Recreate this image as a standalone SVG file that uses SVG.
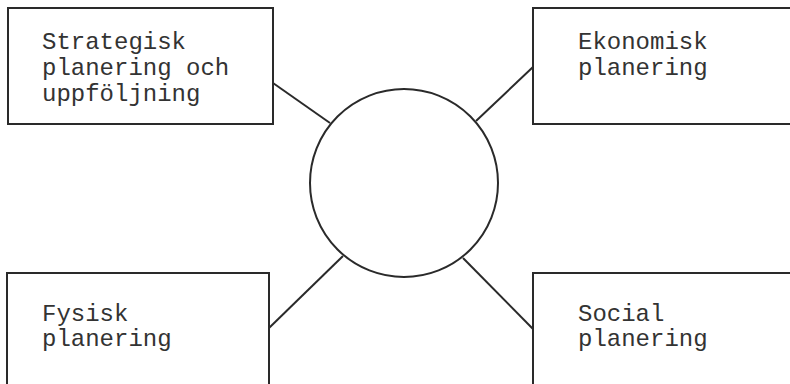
<svg xmlns="http://www.w3.org/2000/svg" width="790" height="384" viewBox="0 0 790 384">
<style>
.box{fill:none;stroke:#2a2a2a;stroke-width:2}
.con{fill:none;stroke:#2a2a2a;stroke-width:2}
.t{font-family:"Liberation Mono","DejaVu Sans Mono",monospace;font-size:24px;fill:#333}
</style>
<rect width="790" height="384" fill="#ffffff"/>
<g id="connectors">
<line class="con" x1="273" y1="83" x2="330" y2="123"/>
<line class="con" x1="533" y1="67" x2="476" y2="121"/>
<line class="con" x1="343" y1="256" x2="269" y2="328"/>
<line class="con" x1="463" y1="258" x2="533" y2="329"/>
</g>
<g id="center">
<circle class="box" cx="404" cy="183" r="94"/>
</g>
<g id="strategisk">
<rect class="box" x="8" y="8" width="265" height="116"/>
<text class="t" x="42" y="49">Strategisk</text>
<text class="t" x="42" y="75">planering och</text>
<text class="t" x="42" y="101">uppföljning</text>
</g>
<g id="ekonomisk">
<rect class="box" x="533" y="8" width="280" height="116"/>
<text class="t" x="578" y="49">Ekonomisk</text>
<text class="t" x="578" y="75">planering</text>
</g>
<g id="fysisk">
<rect class="box" x="7" y="273" width="262" height="130"/>
<text class="t" x="42" y="321">Fysisk</text>
<text class="t" x="42" y="346">planering</text>
</g>
<g id="social">
<rect class="box" x="533" y="273" width="280" height="130"/>
<text class="t" x="578" y="321">Social</text>
<text class="t" x="578" y="346">planering</text>
</g>
</svg>
